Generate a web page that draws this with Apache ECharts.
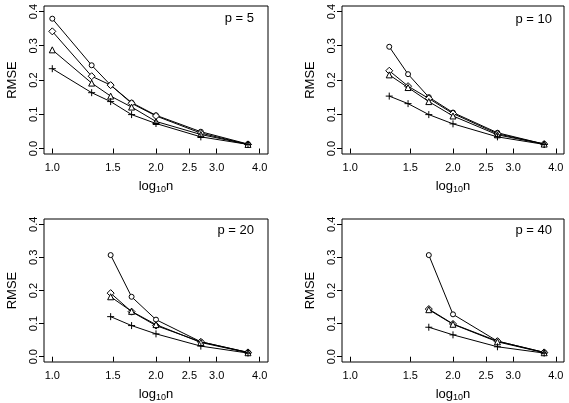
<!DOCTYPE html>
<html>
<head>
<meta charset="utf-8">
<script src="https://cdn.jsdelivr.net/npm/echarts@6/dist/echarts.min.js"></script>
<style>
    html, body { margin: 0; padding: 0; background: #fff; }
    #cn { width: 569px; height: 403px; }
</style>
</head>
<body>
<div id="cn"></div>
<script>
'use strict';

// x positions: log10(n) for n = 10, 20, 30, 50, 100, 500, 5000
const logN = [1.0, 1.30103, 1.47712, 1.69897, 2.0, 2.69897, 3.69897];

const xTicks = [1.0, 1.5, 2.0, 2.5, 3.0, 4.0];
const yTicks = [0.0, 0.1, 0.2, 0.3, 0.4];

const panelLabels = ['p = 5', 'p = 10', 'p = 20', 'p = 40'];
const panelStart = [0, 1, 2, 3]; // first index into logN per panel

// o = circle, d = diamond, t = triangle, x = plus
const p5_o = [0.379, 0.243, 0.185, 0.134, 0.097, 0.049, 0.013];
const p5_d = [0.342, 0.211, 0.185, 0.132, 0.095, 0.045, 0.012];
const p5_t = [0.288, 0.191, 0.153, 0.121, 0.079, 0.041, 0.012];
const p5_x = [0.233, 0.163, 0.137, 0.099, 0.073, 0.034, 0.012];

const p10_o = [0.297, 0.217, 0.150, 0.105, 0.046, 0.013];
const p10_d = [0.227, 0.182, 0.146, 0.102, 0.043, 0.013];
const p10_t = [0.215, 0.178, 0.137, 0.095, 0.040, 0.013];
const p10_x = [0.153, 0.131, 0.099, 0.072, 0.034, 0.012];

const p20_o = [0.307, 0.181, 0.112, 0.045, 0.013];
const p20_d = [0.192, 0.136, 0.094, 0.045, 0.013];
const p20_t = [0.181, 0.137, 0.097, 0.043, 0.012];
const p20_x = [0.121, 0.094, 0.069, 0.032, 0.011];

const p40_o = [0.307, 0.128, 0.047, 0.013];
const p40_d = [0.144, 0.099, 0.047, 0.013];
const p40_t = [0.142, 0.098, 0.045, 0.012];
const p40_x = [0.089, 0.066, 0.030, 0.011];

const panelData = [
    [p5_o, p5_d, p5_t, p5_x],
    [p10_o, p10_d, p10_t, p10_x],
    [p20_o, p20_d, p20_t, p20_x],
    [p40_o, p40_d, p40_t, p40_x]
];

const FONT = 'Liberation Sans';

const grids = [
    { left: 44, top: 6, width: 224, height: 148 },
    { left: 342, top: 6, width: 222, height: 148 },
    { left: 44, top: 219, width: 224, height: 146 },
    { left: 342, top: 219, width: 222, height: 146 }
];
// where the "p = .." text sits
const labelPos = [
    { right: 315, top: 12 },
    { right: 17, top: 13 },
    { right: 315, top: 224 },
    { right: 17, top: 224 }
];

const symbols = [
    { symbol: 'circle', size: 5 },
    { symbol: 'diamond', size: 7 },
    { symbol: 'triangle', size: 6 },
    { symbol: 'path://M5,0L5,10M0,5L10,5', size: 7 }
];

const chart = echarts.init(document.getElementById('cn'));

let xAxes = [], yAxes = [], series = [], titles = [];

grids.forEach((g, i) => {
    g.show = true;
    g.borderColor = '#000';
    g.borderWidth = 1;
    g.backgroundColor = 'transparent';

    xAxes.push({
        type: 'log',
        logBase: 10,
        gridIndex: i,
        min: 0.9461,
        max: 4.228,
        name: 'log{sub|10}n',
        nameLocation: 'middle',
        nameGap: 25,
        nameTextStyle: {
            fontFamily: FONT, fontSize: 13, color: '#000',
            rich: { sub: { fontFamily: FONT, fontSize: 9, color: '#000', verticalAlign: 'bottom', padding: [6, 0, 0, 0] } }
        },
        axisLine: { show: false },
        axisTick: { show: true, length: 5, lineStyle: { color: '#000' }, customValues: xTicks },
        axisLabel: {
            customValues: xTicks,
            formatter: v => v.toFixed(1),
            fontFamily: FONT, fontSize: 11, color: '#000', margin: 8
        },
        splitLine: { show: false },
        minorTick: { show: false }
    });

    yAxes.push({
        type: 'value',
        gridIndex: i,
        min: -0.016,
        max: 0.416,
        name: 'RMSE',
        nameLocation: 'middle',
        nameRotate: 90,
        nameGap: 25,
        nameTextStyle: { fontFamily: FONT, fontSize: 13, color: '#000' },
        axisLine: { show: false },
        axisTick: { show: true, length: 5, lineStyle: { color: '#000' }, customValues: yTicks },
        axisLabel: {
            customValues: yTicks,
            rotate: 90,
            formatter: v => v.toFixed(1),
            fontFamily: FONT, fontSize: 11, color: '#000', margin: 5
        },
        splitLine: { show: false }
    });

    titles.push({
        text: panelLabels[i],
        right: labelPos[i].right,
        top: labelPos[i].top,
        padding: 0,
        textStyle: { fontFamily: FONT, fontSize: 13, fontWeight: 'normal', color: '#000' }
    });

    panelData[i].forEach((vals, k) => {
        const pts = vals.map((v, j) => [logN[panelStart[i] + j], v]);
        series.push({
            type: 'line',
            xAxisIndex: i,
            yAxisIndex: i,
            data: pts,
            symbol: symbols[k].symbol,
            symbolSize: symbols[k].size,
            showSymbol: true,
            lineStyle: { color: '#000', width: 1 },
            itemStyle: {
                color: k === 3 ? 'rgba(0,0,0,0)' : '#fff',
                borderColor: '#000',
                borderWidth: 1
            },
            emphasis: { disabled: true },
            z: 2 + k
        });
    });
});

let option = {
    animation: false,
    backgroundColor: '#fff',
    title: titles,
    grid: grids,
    xAxis: xAxes,
    yAxis: yAxes,
    series: series
};

chart.setOption(option);
</script>
</body>
</html>
